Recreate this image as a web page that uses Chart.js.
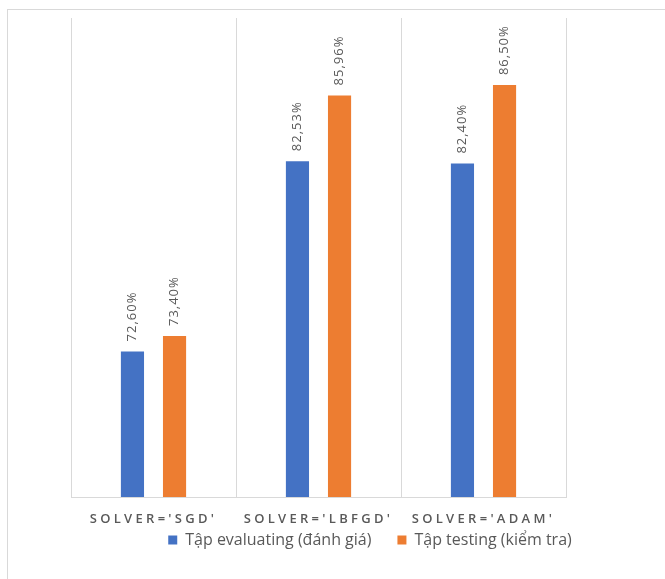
<!DOCTYPE html>
<html>
<head>
<meta charset="utf-8">
<script src="https://cdn.jsdelivr.net/npm/chart.js@4.4.0/dist/chart.umd.min.js"></script>
<style>
  html, body { margin: 0; padding: 0; background: #fff; overflow: hidden; }
  .frame {
    position: absolute; left: 7px; top: 9px;
    width: 760px; height: 600px;
    border-left: 1px solid #d9d9d9; border-top: 1px solid #d9d9d9;
  }
  .chart-box { position: absolute; left: 0; top: 0; width: 724px; height: 569px; }
</style>
</head>
<body>
<div class="frame">
  <div class="chart-box"><canvas id="chart"></canvas></div>
</div>
<script>
const categories = ["SOLVER='SGD'", "SOLVER='LBFGD'", "SOLVER='ADAM'"]
const seriesNames = ["Tập evaluating (đánh giá)", "Tập testing (kiểm tra)"]
const evaluating = [72.60, 82.53, 82.40]
const testing = [73.40, 85.96, 86.50]
const yMin = 65
const yMax = 90

const TEXT_GRAY = "#595959"
const LINE_GRAY = "#d9d9d9"

const formatPercent = v => v.toFixed(2).replace(".", ",") + "%"

// rotated value labels above each bar, letter spacing for the category labels,
// and the legend pulled up closer to the axis labels
const barLabels = {
  id: "barLabels",
  afterLayout(chart) {
    const legend = chart.legend
    legend.top -= 21
    legend.bottom -= 21
  },
  afterDatasetsDraw(chart) {
    const ctx = chart.ctx
    chart.data.datasets.forEach((ds, i) => {
      const meta = chart.getDatasetMeta(i)
      meta.data.forEach((bar, j) => {
        ctx.save()
        ctx.translate(bar.x, bar.y - 10)
        ctx.rotate(-Math.PI / 2)
        ctx.font = "13px 'Open Sans'"
        ctx.letterSpacing = "1px"
        ctx.fillStyle = TEXT_GRAY
        ctx.textAlign = "left"
        ctx.textBaseline = "middle"
        ctx.fillText(formatPercent(ds.data[j]), 0, 0)
        ctx.restore()
      })
    })
    ctx.letterSpacing = "3.3px"
  },
  afterDraw(chart) {
    chart.ctx.letterSpacing = "0px"
  }
}

new Chart(document.getElementById("chart"), {
  type: "bar",
  data: {
    labels: categories,
    datasets: [
      { label: seriesNames[0], data: evaluating, backgroundColor: "#4472C4" },
      { label: seriesNames[1], data: testing, backgroundColor: "#ED7D31" }
    ]
  },
  options: {
    responsive: true,
    maintainAspectRatio: false,
    animation: false,
    categoryPercentage: 0.51,
    barPercentage: 0.55,
    layout: { padding: { top: 8, bottom: 0, left: 0, right: 0 } },
    scales: {
      x: {
        grid: { color: LINE_GRAY, drawTicks: false, offset: true },
        border: { color: LINE_GRAY },
        ticks: {
          z: 1,
          padding: 14,
          color: TEXT_GRAY,
          maxRotation: 0,
          autoSkip: false,
          font: { family: "'Open Sans'", size: 13, weight: "600" }
        },
        afterFit: scale => { scale.height = 30 }
      },
      y: {
        min: yMin,
        max: yMax,
        ticks: { display: false },
        grid: { display: false },
        border: { display: false },
        afterFit: scale => { scale.width = 63 }
      },
      yRight: {
        position: "right",
        ticks: { display: false },
        grid: { display: false },
        border: { display: false },
        afterFit: scale => { scale.width = 166 }
      }
    },
    plugins: {
      legend: {
        position: "bottom",
        labels: {
          boxWidth: 9,
          boxHeight: 9,
          padding: 26,
          color: TEXT_GRAY,
          font: { family: "'Open Sans'", size: 16 }
        }
      },
      tooltip: { enabled: false }
    }
  },
  plugins: [barLabels]
})
</script>
</body>
</html>
